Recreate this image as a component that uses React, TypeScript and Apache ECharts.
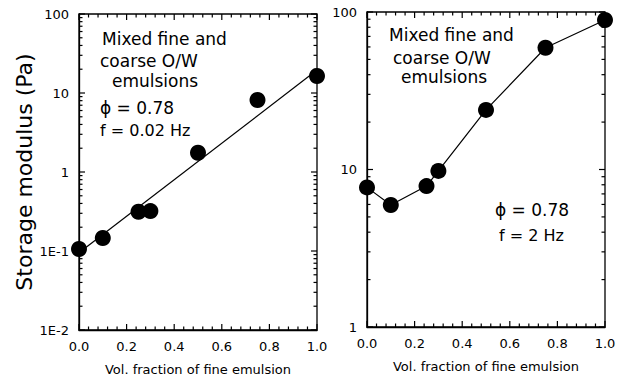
import React, { useEffect, useRef } from 'react';
import * as echarts from 'echarts';

// Volume fraction of fine emulsion (x)
const volFraction = [0, 0.1, 0.25, 0.3, 0.5, 0.75, 1.0];
// Storage modulus (Pa) at f = 0.02 Hz (left panel)
const storageLowFreq = [0.106, 0.146, 0.314, 0.32, 1.75, 8.15, 16.4];
// Storage modulus (Pa) at f = 2 Hz (right panel)
const storageHighFreq = [7.7, 5.95, 7.85, 9.8, 23.9, 59.3, 88.9];
// Fitted straight line (log scale) for the left panel
const fitX = [0, 1];
const fitY = [0.095, 19.5];

// Tick values and labels
const xMajorTicks = [0, 0.2, 0.4, 0.6, 0.8, 1.0];
const xMinorTicks = [
  0.04, 0.08, 0.12, 0.16, 0.24, 0.28, 0.32, 0.36, 0.44, 0.48, 0.52, 0.56,
  0.64, 0.68, 0.72, 0.76, 0.84, 0.88, 0.92, 0.96,
];
const leftTickValues = [0.01, 0.1, 1, 10, 100];
const leftTickLabels = ['1E-2', '1E-1', '1', '10', '100'];
const leftMinorTicks = [
  0.02, 0.03, 0.04, 0.05, 0.06, 0.07, 0.08, 0.09,
  0.2, 0.3, 0.4, 0.5, 0.6, 0.7, 0.8, 0.9,
  2, 3, 4, 5, 6, 7, 8, 9,
  20, 30, 40, 50, 60, 70, 80, 90,
];
const rightTickValues = [1, 10, 100];
const rightTickLabels = ['1', '10', '100'];
const rightMinorTicks = [2, 3, 4, 5, 6, 7, 8, 9, 20, 30, 40, 50, 60, 70, 80, 90];

const leftNotes = ['Mixed fine and', 'coarse O/W', 'emulsions'];
const leftParams = ['\u03d5 = 0.78', 'f = 0.02 Hz'];
const rightNotes = ['Mixed fine and', 'coarse O/W', 'emulsions'];
const rightParams = ['\u03d5 = 0.78', 'f = 2 Hz'];

const FONT = 'DejaVu Sans';
const BLACK = '#000';
const MAJOR = 6;
const MINOR = 3.5;

function labelFor(values: number[], labels: string[]) {
  return (v: number) => {
    for (let i = 0; i < values.length; i++) {
      if (Math.abs(Math.log10(v) - Math.log10(values[i])) < 1e-6) return labels[i];
    }
    return '';
  };
}

function xAxisFor(gridIndex: number) {
  return {
    type: 'value',
    gridIndex,
    position: 'bottom',
    min: 0,
    max: 1,
    interval: 0.2,
    name: 'Vol. fraction of fine emulsion',
    nameLocation: 'middle',
    nameGap: 33,
    nameTextStyle: { fontFamily: FONT, fontSize: 13, color: BLACK },
    axisLine: { show: true, onZero: false, lineStyle: { color: BLACK, width: 1.3 } },
    axisTick: { show: false },
    minorTick: { show: false },
    axisLabel: {
      show: true,
      margin: 10,
      fontFamily: FONT,
      fontSize: 13,
      color: BLACK,
      formatter: (v: number) => v.toFixed(1),
    },
    splitLine: { show: false },
  };
}

function yAxisFor(gridIndex: number, min: number, max: number, values: number[], labels: string[], name: string) {
  return {
    type: 'log',
    logBase: 10,
    gridIndex,
    position: 'left',
    min,
    max,
    name,
    nameLocation: 'middle',
    nameGap: 42,
    nameTextStyle: { fontFamily: FONT, fontSize: 22, color: BLACK },
    axisLine: { show: true, onZero: false, lineStyle: { color: BLACK, width: 1.3 } },
    axisTick: { show: false },
    minorTick: { show: false },
    axisLabel: {
      show: true,
      margin: 10,
      fontFamily: FONT,
      fontSize: 13,
      color: BLACK,
      formatter: labelFor(values, labels),
    },
    splitLine: { show: false },
  };
}

// Inward tick marks on all four sides, placed through the axes' own scales
function tickSeries(xAxisIndex: number, yAxisIndex: number, yMin: number, yMax: number, yMajor: number[], yMinor: number[]) {
  const items: number[][] = [];
  xMajorTicks.forEach((x) => {
    items.push([x, yMin, 0, -MAJOR]);
    items.push([x, yMax, 0, MAJOR]);
  });
  xMinorTicks.forEach((x) => {
    items.push([x, yMin, 0, -MINOR]);
    items.push([x, yMax, 0, MINOR]);
  });
  yMajor.forEach((y) => {
    items.push([0, y, MAJOR, 0]);
    items.push([1, y, -MAJOR, 0]);
  });
  yMinor.forEach((y) => {
    items.push([0, y, MINOR, 0]);
    items.push([1, y, -MINOR, 0]);
  });
  return {
    type: 'custom',
    xAxisIndex,
    yAxisIndex,
    data: items,
    encode: { x: 0, y: 1 },
    clip: false,
    silent: true,
    z: 5,
    renderItem: (_params: any, api: any) => {
      const p = api.coord([api.value(0), api.value(1)]);
      const dx = api.value(2);
      const dy = api.value(3);
      return {
        type: 'line',
        shape: { x1: p[0], y1: p[1], x2: p[0] + dx, y2: p[1] + dy },
        style: { stroke: BLACK, lineWidth: 1.2 },
      };
    },
  };
}

function textEl(text: string, x: number, y: number, size: number) {
  return {
    type: 'text',
    x,
    y,
    style: { text, fill: BLACK, fontFamily: FONT, fontSize: size, verticalAlign: 'middle' },
  };
}

export default function App() {
  const ref = useRef<HTMLDivElement>(null);
  useEffect(() => {
    if (!ref.current) return;
    const chart = echarts.init(ref.current, null, { renderer: 'svg' });
    const leftPoints = volFraction.map((x, i) => [x, storageLowFreq[i]]);
    const rightPoints = volFraction.map((x, i) => [x, storageHighFreq[i]]);
    const fitPoints = fitX.map((x, i) => [x, fitY[i]]);

    const option = {
      animation: false,
      backgroundColor: '#fff',
      grid: [
        { left: 79, top: 14, width: 238, height: 316, show: true, borderColor: BLACK, borderWidth: 1.3, backgroundColor: 'transparent' },
        { left: 367, top: 12, width: 238, height: 315, show: true, borderColor: BLACK, borderWidth: 1.3, backgroundColor: 'transparent' },
      ],
      xAxis: [xAxisFor(0), xAxisFor(1)],
      yAxis: [
        yAxisFor(0, 0.01, 100, leftTickValues, leftTickLabels, 'Storage modulus (Pa)'),
        yAxisFor(1, 1, 100, rightTickValues, rightTickLabels, ''),
      ],
      series: [
        tickSeries(0, 0, 0.01, 100, leftTickValues, leftMinorTicks),
        tickSeries(1, 1, 1, 100, rightTickValues, rightMinorTicks),
        {
          type: 'line',
          xAxisIndex: 0,
          yAxisIndex: 0,
          data: fitPoints,
          showSymbol: false,
          symbol: 'none',
          lineStyle: { color: BLACK, width: 1.2 },
          z: 2,
        },
        {
          type: 'scatter',
          xAxisIndex: 0,
          yAxisIndex: 0,
          data: leftPoints,
          symbol: 'circle',
          symbolSize: 16,
          itemStyle: { color: BLACK, opacity: 1 },
          clip: false,
          z: 3,
        },
        {
          type: 'line',
          xAxisIndex: 1,
          yAxisIndex: 1,
          data: rightPoints,
          symbol: 'circle',
          symbolSize: 16,
          showSymbol: true,
          itemStyle: { color: BLACK, borderWidth: 0, opacity: 1 },
          lineStyle: { color: BLACK, width: 1.2 },
          clip: false,
          z: 3,
        },
      ],
      graphic: [
        textEl(leftNotes[0], 102, 39, 17),
        textEl(leftNotes[1], 100, 61, 17),
        textEl(leftNotes[2], 112, 81, 17),
        textEl(leftParams[0], 100, 108, 17),
        textEl(leftParams[1], 100, 130, 16),
        textEl(rightNotes[0], 389, 35, 17),
        textEl(rightNotes[1], 393, 58, 17),
        textEl(rightNotes[2], 401, 77, 17),
        textEl(rightParams[0], 495, 210, 17),
        textEl(rightParams[1], 499, 235, 16),
      ],
    };
    chart.setOption(option as any);
    return () => chart.dispose();
  }, []);
  return (
    <div ref={ref} style={{ position: 'fixed', left: 0, top: 0, width: 628, height: 384, background: '#fff' }} />
  );
}
